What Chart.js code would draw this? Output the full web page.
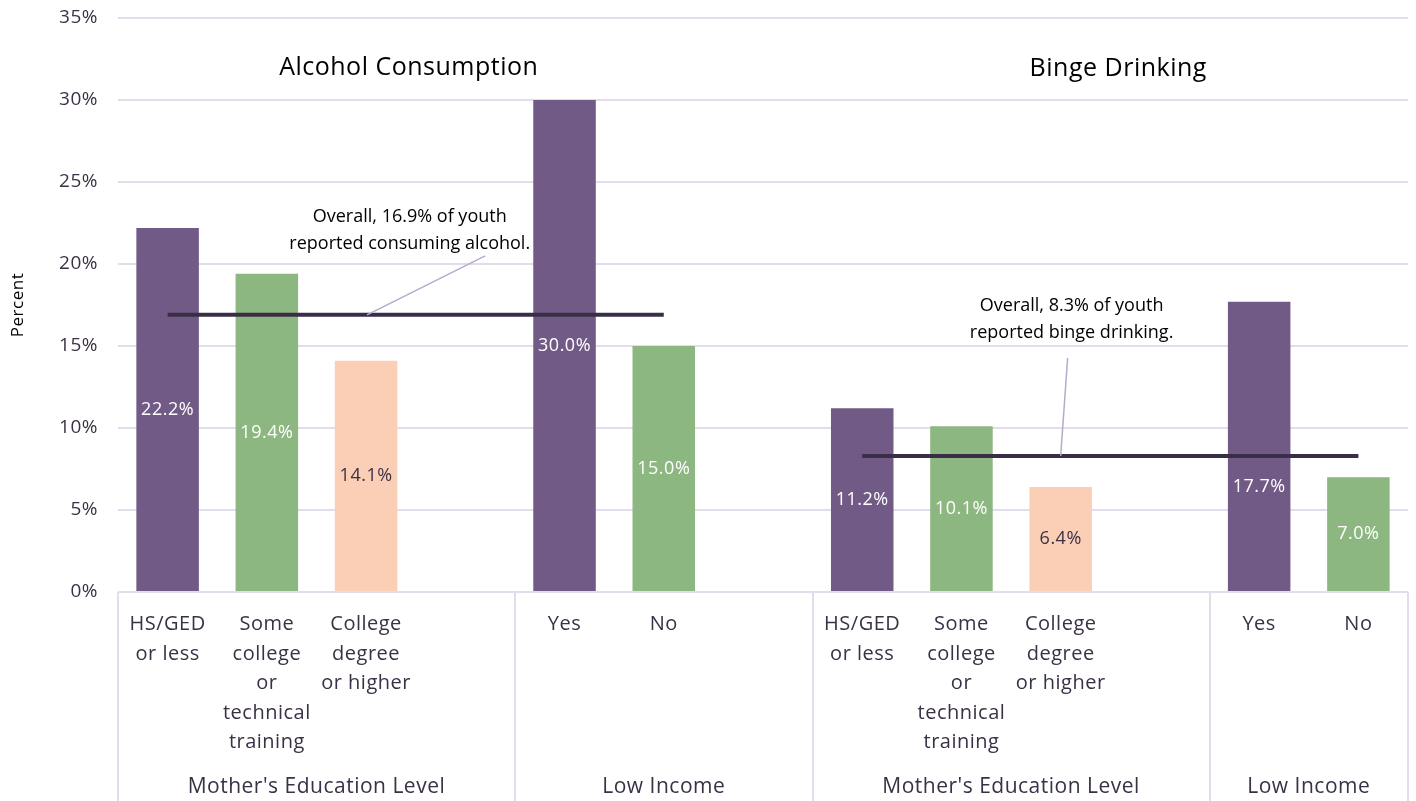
<!DOCTYPE html>
<html>
<head>
<meta charset="utf-8">
<script src="https://cdn.jsdelivr.net/npm/chart.js@4"></script>
<style>
  body { margin: 0; background: #fff; }
  #wrap { width: 1416px; height: 801px; }
</style>
</head>
<body>
<div id="wrap"><canvas id="myChart"></canvas></div>
<script>
// categories (blank slots separate the groups)
const categories = [
  ["HS/GED", "or less"],
  ["Some", "college", "or", "technical", "training"],
  ["College", "degree", "or higher"],
  "",
  "Yes",
  "No",
  "",
  ["HS/GED", "or less"],
  ["Some", "college", "or", "technical", "training"],
  ["College", "degree", "or higher"],
  "",
  "Yes",
  "No"
];
const values = [22.2, 19.4, 14.1, null, 30.0, 15.0, null, 11.2, 10.1, 6.4, null, 17.7, 7.0];
const barColors = ["#715b86", "#8db780", "#fbcfb6", null, "#715b86", "#8db780", null,
                   "#715b86", "#8db780", "#fbcfb6", null, "#715b86", "#8db780"];
const alcoholOverall = [16.9, 16.9, 16.9, 16.9, 16.9, 16.9, null, null, null, null, null, null, null];
const bingeOverall = [null, null, null, null, null, null, null, 8.3, 8.3, 8.3, 8.3, 8.3, 8.3];
const groups = ["Mother's Education Level", "Low Income", "Mother's Education Level", "Low Income"];
const groupBounds = [[-0.5, 3.5], [3.5, 6.5], [6.5, 10.5], [10.5, 12.5]];
const panelTitles = ["Alcohol Consumption", "Binge Drinking"];
const yTicks = [0, 5, 10, 15, 20, 25, 30, 35];

const FONT = "'Open Sans', Lato, sans-serif";
const TEXT = "#3b3146";
const GRID = "#e2dcec";

const extras = {
  id: "extras",
  beforeDraw(chart) {
    chart.ctx.letterSpacing = "0.5px";
  },
  afterDatasetsDraw(chart) {
    const ctx = chart.ctx;
    const x = chart.scales.x, y = chart.scales.y;
    const area = chart.chartArea;
    ctx.save();

    // value labels in the middle of each bar, pushed below the overall line if they would sit on it
    const meta = chart.getDatasetMeta(2);
    ctx.font = "18px " + FONT;
    ctx.textAlign = "center";
    ctx.textBaseline = "middle";
    meta.data.forEach((bar, i) => {
      if (values[i] == null) return;
      const p = bar.getProps(["x", "y", "base"], true);
      let ly = (p.y + p.base) / 2;
      const ov = alcoholOverall[i] != null ? alcoholOverall[i] : bingeOverall[i];
      if (ov != null) {
        const lineY = y.getPixelForValue(ov);
        if (Math.abs(ly - lineY) < 16) ly = lineY + 31;
      }
      ctx.fillStyle = barColors[i] === "#fbcfb6" ? TEXT : "#ffffff";
      ctx.fillText(values[i].toFixed(1) + "%", p.x, ly);
    });

    // group separators and group names under the axis
    ctx.strokeStyle = GRID;
    ctx.lineWidth = 2;
    const edges = [-0.5, 3.5, 6.5, 10.5, 12.5];
    edges.forEach(e => {
      const px = Math.round(x.getPixelForValue(e));
      ctx.beginPath();
      ctx.moveTo(px, area.bottom);
      ctx.lineTo(px, chart.height);
      ctx.stroke();
    });
    ctx.fillStyle = TEXT;
    ctx.font = "21px " + FONT;
    groups.forEach((g, i) => {
      const mid = (x.getPixelForValue(groupBounds[i][0]) + x.getPixelForValue(groupBounds[i][1])) / 2;
      ctx.fillText(g, mid, 787);
    });

    // panel titles
    ctx.fillStyle = "#000";
    ctx.font = "25px " + FONT;
    ctx.fillText(panelTitles[0], x.getPixelForValue(2.43), y.getPixelForValue(31.95));
    ctx.fillText(panelTitles[1], x.getPixelForValue(9.58), y.getPixelForValue(31.9));

    // annotations with leader lines
    ctx.letterSpacing = "0px";
    ctx.font = "18px " + FONT;
    ctx.fillText("Overall, 16.9% of youth", x.getPixelForValue(2.44), y.getPixelForValue(22.87));
    ctx.fillText("reported consuming alcohol.", x.getPixelForValue(2.44), y.getPixelForValue(21.22));
    ctx.fillText("Overall, 8.3% of youth", x.getPixelForValue(9.11), y.getPixelForValue(17.44));
    ctx.fillText("reported binge drinking.", x.getPixelForValue(9.11), y.getPixelForValue(15.79));

    ctx.strokeStyle = "#b7a9cf";
    ctx.lineWidth = 1.5;
    ctx.beginPath();
    ctx.moveTo(x.getPixelForValue(3.2), y.getPixelForValue(20.5));
    ctx.lineTo(x.getPixelForValue(2.01), y.getPixelForValue(16.9));
    ctx.moveTo(x.getPixelForValue(9.07), y.getPixelForValue(14.27));
    ctx.lineTo(x.getPixelForValue(9.0), y.getPixelForValue(8.3));
    ctx.stroke();
    ctx.restore();
  }
};

const data = {
  labels: categories,
  datasets: [
    {
      type: "line",
      data: alcoholOverall,
      borderColor: "#3a2d48",
      borderWidth: 4,
      pointRadius: 0,
      order: 0
    },
    {
      type: "line",
      data: bingeOverall,
      borderColor: "#3a2d48",
      borderWidth: 4,
      pointRadius: 0,
      order: 0
    },
    {
      type: "bar",
      data: values,
      backgroundColor: barColors,
      categoryPercentage: 1,
      barPercentage: 0.63,
      order: 1
    }
  ]
};

const config = {
  type: "bar",
  data: data,
  options: {
    responsive: true,
    maintainAspectRatio: false,
    animation: false,
    layout: { padding: { top: 18, right: 8, left: 0, bottom: 0 } },
    scales: {
      x: {
        grid: { display: false },
        border: { display: false },
        ticks: {
          color: TEXT,
          autoSkip: false,
          maxRotation: 0,
          padding: 10,
          font: { family: FONT, size: 20, lineHeight: 1.47 }
        },
        afterFit: s => { s.height = 209; s.paddingTop = 0; s.paddingBottom = 0; }
      },
      y: {
        min: 0,
        max: 35,
        afterBuildTicks: s => { s.ticks = yTicks.map(v => ({ value: v })); },
        grid: { color: GRID, lineWidth: 2, drawTicks: false },
        border: { display: false },
        ticks: {
          color: TEXT,
          padding: 20,
          font: { family: FONT, size: 19 },
          callback: v => v + "%"
        },
        title: {
          display: true,
          text: "Percent",
          color: "#000",
          font: { family: FONT, size: 17 },
          padding: { top: 8, bottom: 0 }
        },
        afterFit: s => { s.width = 118; s.paddingTop = 0; s.paddingBottom = 0; }
      }
    },
    plugins: {
      legend: { display: false },
      tooltip: { enabled: false }
    }
  },
  plugins: [extras]
};

const myChart = new Chart(document.getElementById("myChart"), config);
</script>
</body>
</html>
